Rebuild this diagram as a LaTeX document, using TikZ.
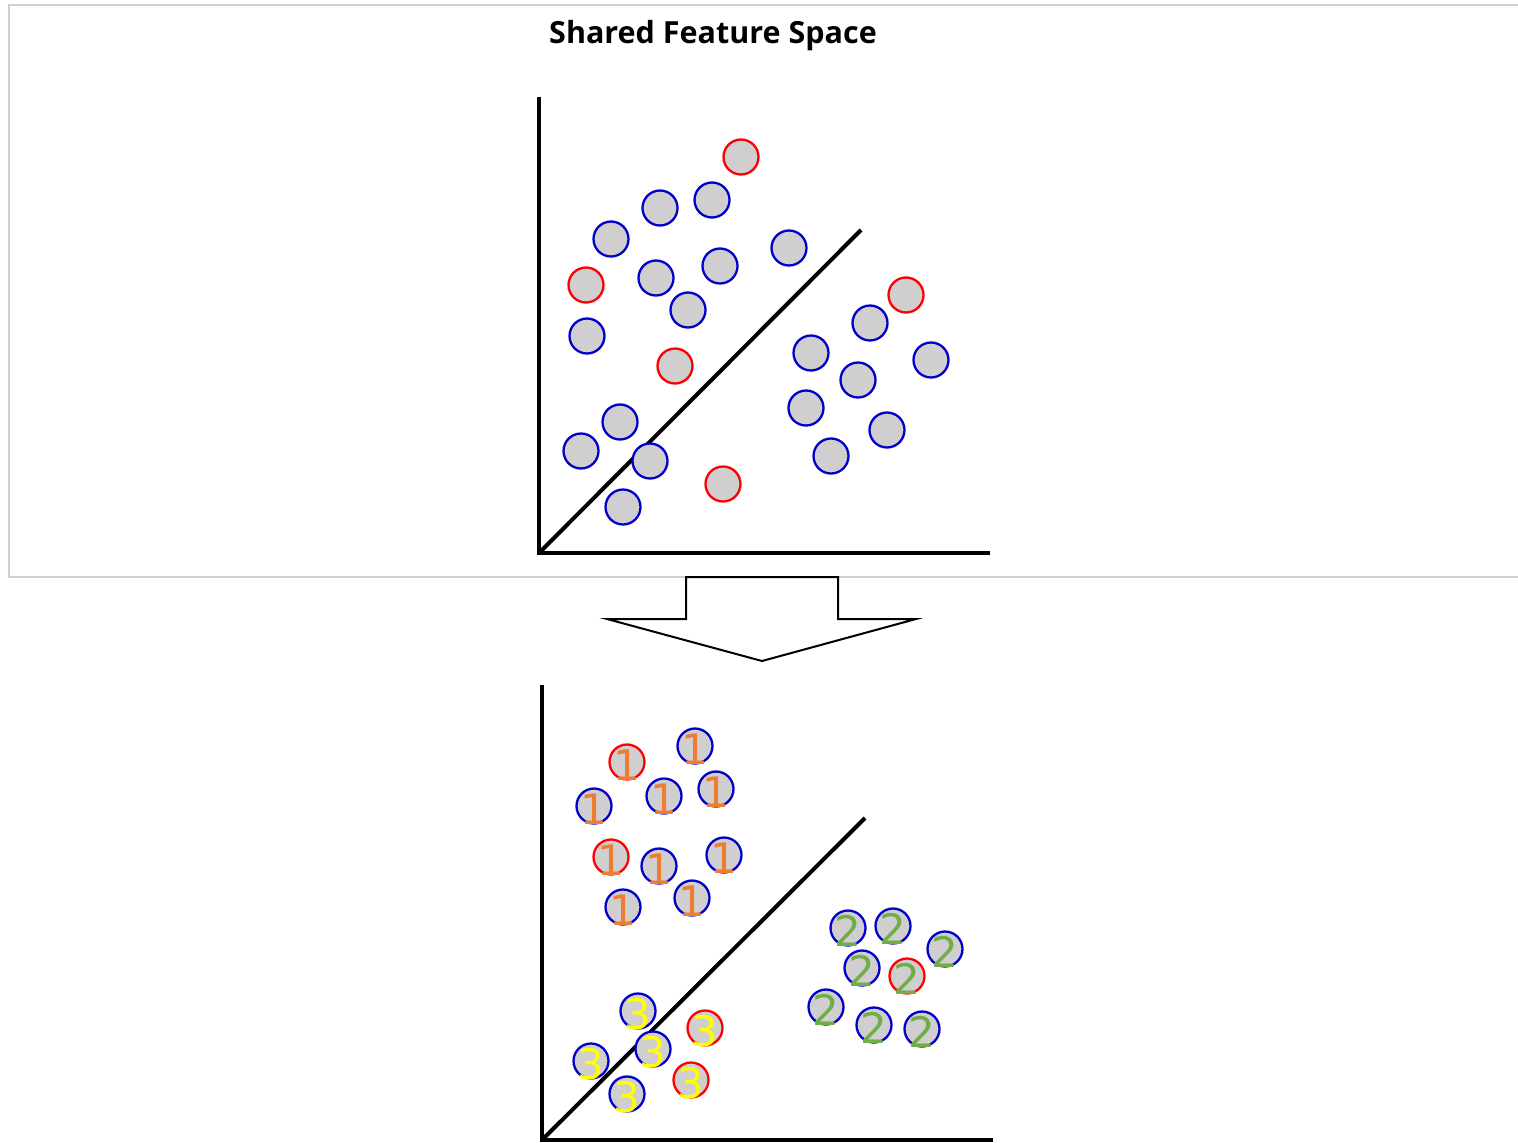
\documentclass[tikz,border=0pt]{standalone}
\usepackage{fontspec}
\setmainfont{Open Sans}
\newfontfamily\digitfont{DejaVu Sans}
\definecolor{dotfill}{HTML}{D0CECE}
\definecolor{dotblue}{HTML}{0000CC}
\definecolor{dotred}{HTML}{FF0000}
\definecolor{frame}{HTML}{D0D0D0}
\definecolor{orangeD}{HTML}{ED7D31}
\definecolor{greenD}{HTML}{70AD47}
\definecolor{yellowD}{HTML}{FFFF00}
\tikzset{
  dot/.style={circle, minimum size=35pt, inner sep=0pt, fill=dotfill, line width=2.3pt},
  bdot/.style={dot, draw=dotblue},
  rdot/.style={dot, draw=dotred},
  axis/.style={line width=4pt, line cap=rect},
  sep/.style={line width=4pt},
  digit/.style={font=\digitfont\fontsize{42}{42}\selectfont, inner sep=0pt},
  one/.style={label={[digit, text=orangeD, yshift=-3pt]center:1}},
  two/.style={label={[digit, text=greenD, yshift=-3pt]center:2}},
  three/.style={label={[digit, text=yellowD, yshift=-3pt]center:3}},
}
\begin{document}
\begin{tikzpicture}[x=1pt, y=-1pt]
\useasboundingbox (0,0) rectangle (1518,1143);
% frame
\draw[frame, line width=2pt] (1518,5) -- (9,5) -- (9,577) -- (1518,577);
\node[font=\bfseries\fontsize{30.5}{30.5}\selectfont] (title) at (713,36) {Shared Feature Space};

% top axes
\coordinate (ty) at (539,99);
\coordinate (to) at (539,553);
\coordinate (tx) at (988,553);
\coordinate (td) at (861,230);
\draw[axis] (ty) -- (to) -- (tx);
\draw[sep] (to) -- (td);

% top dots
\node[rdot] (a1) at (741,157) {};
\node[bdot] (a2) at (660,208) {};
\node[bdot] (a3) at (712,200) {};
\node[bdot] (a4) at (611,239) {};
\node[bdot] (a5) at (789,248) {};
\node[rdot] (a6) at (586,285) {};
\node[bdot] (a7) at (656,278) {};
\node[bdot] (a8) at (720,266) {};
\node[bdot] (a9) at (688,310) {};
\node[bdot] (a10) at (587,336) {};
\node[rdot] (a11) at (675,366) {};
\node[rdot] (a12) at (906,295) {};
\node[bdot] (a13) at (870,323) {};
\node[bdot] (a14) at (811,353) {};
\node[bdot] (a15) at (931,360) {};
\node[bdot] (a16) at (858,380) {};
\node[bdot] (a17) at (806,408) {};
\node[bdot] (a18) at (887,430) {};
\node[bdot] (a19) at (831,456) {};
\node[bdot] (a20) at (620,422) {};
\node[bdot] (a21) at (581,451) {};
\node[bdot] (a22) at (650,461) {};
\node[rdot] (a23) at (723,484) {};
\node[bdot] (a24) at (623,507) {};

% block arrow
\draw[line width=2pt, fill=white, line join=miter]
  (686,577) -- (838,577) -- (838,619) -- (916,619) -- (762,661) -- (607,619) -- (686,619) -- cycle;

% bottom axes
\coordinate (by) at (542,687);
\coordinate (bo) at (542,1140);
\coordinate (bx) at (991,1140);
\coordinate (bd) at (865,818);
\draw[axis] (by) -- (bo) -- (bx);
\draw[sep] (bo) -- (bd);

% cluster 1
\node[rdot, one] (b1) at (627,762) {};
\node[bdot, one] (b2) at (695,746) {};
\node[bdot, one] (b3) at (594,806) {};
\node[bdot, one] (b4) at (664,796) {};
\node[bdot, one] (b5) at (716,789) {};
\node[rdot, one] (b6) at (611,857) {};
\node[bdot, one] (b7) at (659,866) {};
\node[bdot, one] (b8) at (724,855) {};
\node[bdot, one] (b9) at (623,907) {};
\node[bdot, one] (b10) at (692,898) {};
% cluster 2
\node[bdot, two] (c1) at (848,928) {};
\node[bdot, two] (c2) at (893,926) {};
\node[bdot, two] (c3) at (945,949) {};
\node[bdot, two] (c4) at (862,968) {};
\node[rdot, two] (c5) at (907,976) {};
\node[bdot, two] (c6) at (826,1007) {};
\node[bdot, two] (c7) at (874,1025) {};
\node[bdot, two] (c8) at (922,1029) {};
% cluster 3
\node[bdot, three] (d1) at (638,1011) {};
\node[rdot, three] (d2) at (705,1028) {};
\node[bdot, three] (d3) at (653,1049) {};
\node[bdot, three] (d4) at (591,1061) {};
\node[rdot, three] (d5) at (691,1080) {};
\node[bdot, three] (d6) at (627,1094) {};
\end{tikzpicture}
\end{document}
